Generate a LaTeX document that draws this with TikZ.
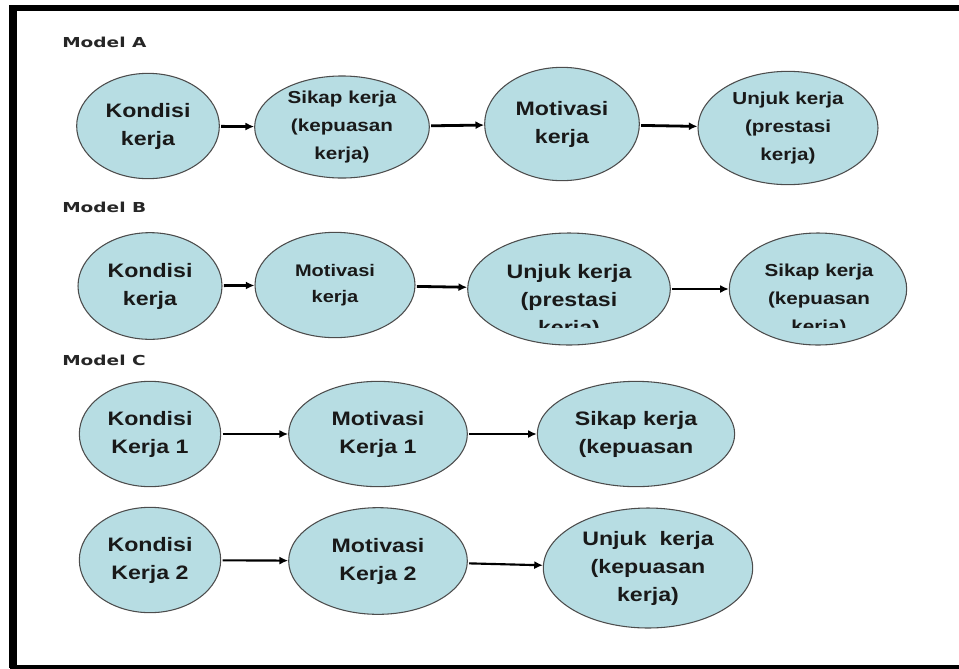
\documentclass[tikz,border=0pt]{standalone}
\usepackage{fontspec}
\usetikzlibrary{shapes.geometric,arrows.meta}
\newfontfamily\ellfont[FakeStretch=1.19]{Liberation Sans}
\newfontfamily\modelfont[FakeStretch=1.35]{DejaVu Sans}
\definecolor{ellblue}{RGB}{183,221,227}
\begin{document}
\begin{tikzpicture}[x=0.75pt,y=-0.75pt,
	main node/.style = {ellipse,draw=black!70,line width=0.8pt,fill=ellblue,inner sep=0pt,align=center,text=black!90},
	big/.style = {font=\ellfont\bfseries\fontsize{14.6}{21}\selectfont},
	mid/.style = {font=\ellfont\bfseries\fontsize{13}{21}\selectfont},
	small/.style = {font=\ellfont\bfseries\fontsize{12.6}{19.5}\selectfont},
	model/.style = {anchor=base west,inner sep=0pt,font=\modelfont\bfseries\fontsize{10.3}{12}\selectfont,text=black!85},
	arr/.style = {-{Latex[length=6.5pt,width=6pt]},line width=2.1pt,shorten <=1pt},
	thin arr/.style = {arr,line width=1.6pt}]
	\useasboundingbox (0,0) rectangle (959,668);
	\draw[line width=4.5pt] (959,8) -- (10,8);
	\draw[line width=6pt] (13,5) -- (13,668);
	\draw[line width=4.5pt] (10,668) -- (959,668);

	\node[model] (ma) at (62,47) {Model A};
	\node[model] (mb) at (62,212) {Model B};
	\node[model] (mc) at (62,365) {Model C};

	\node[main node,big,minimum width=107pt,minimum height=79pt] (a1) at (148,126) {Kondisi\\kerja};
	\node[main node,mid,minimum width=131pt,minimum height=74pt] (a2) at (342,127) {Sikap kerja\\(kepuasan\\kerja)};
	\node[main node,big,minimum width=116pt,minimum height=85pt] (a3) at (562,124) {Motivasi\\kerja};
	\node[main node,mid,minimum width=135pt,minimum height=85pt] (a4) at (788,128) {Unjuk kerja\\(prestasi\\kerja)};

	\node[main node,big,minimum width=108pt,minimum height=80pt] (b1) at (150,286) {Kondisi\\kerja};
	\node[main node,small,minimum width=120pt,minimum height=79pt] (b2) at (335,285) {Motivasi\\kerja};
	\node[main node,minimum width=152pt,minimum height=84pt] (b3) at (569,289) {};
	\node[main node,minimum width=133pt,minimum height=84pt] (b4) at (818,289) {};
	\begin{scope}
	\clip (0,0) rectangle (959,327);
	\node[big,align=center,inner sep=0pt,anchor=north,text=black!90] (b3t) at (569,264) {Unjuk kerja\\(prestasi\\kerja)};
	\node[mid,align=center,inner sep=0pt,anchor=north,text=black!90] (b4t) at (819,264) {Sikap kerja\\(kepuasan\\kerja)};
	\end{scope}

	\node[main node,big,minimum width=106pt,minimum height=79pt] (c1) at (150,434) {Kondisi\\Kerja 1};
	\node[main node,big,minimum width=134pt,minimum height=79pt] (c2) at (378,434) {Motivasi\\Kerja 1};
	\node[main node,big,minimum width=148pt,minimum height=79pt] (c3) at (636,434) {Sikap kerja\\(kepuasan};
	\node[main node,big,minimum width=106pt,minimum height=79pt] (c4) at (150,560) {Kondisi\\Kerja 2};
	\node[main node,big,minimum width=134pt,minimum height=80pt] (c5) at (378,561) {Motivasi\\Kerja 2};
	\node[main node,big,minimum width=157pt,minimum height=90pt] (c6) at (648,568) {Unjuk~ kerja\\(kepuasan\\kerja)};

	\draw[arr] (a1) -- (a2);
	\draw[arr] (a2) -- (a3);
	\draw[arr] (a3) -- (a4);
	\draw[arr] (b1) -- (b2);
	\draw[arr] (b2) -- (b3);
	\draw[arr] (b3) -- (b4);
	\draw[thin arr] (c1) -- (c2);
	\draw[thin arr] (c2) -- (c3);
	\draw[thin arr] (c4) -- (c5);
	\draw[thin arr] (c5) -- (c6);
\end{tikzpicture}
\end{document}
